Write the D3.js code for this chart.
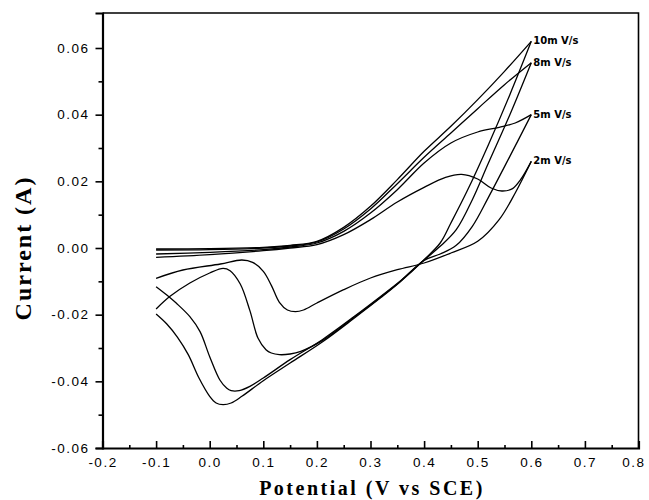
<!DOCTYPE html>
<html>
<head>
<meta charset="utf-8">
<script src="https://cdn.jsdelivr.net/npm/d3@7"></script>
<style>
  body { margin: 0; background: #fff; }
  .tick-label { font-family: "Liberation Sans", Arial, sans-serif; font-size: 13.5px; letter-spacing: 1.5px; fill: #000; }
  .axis-title { font-family: "Liberation Serif", "Times New Roman", serif; font-weight: bold; fill: #000; }
  .rate-label { font-family: "DejaVu Sans", sans-serif; font-weight: bold; font-size: 10px; fill: #000; }
</style>
</head>
<body>
<div id="chart"></div>
<script>
const width = 649;
const height = 500;
const margin = { top: 13, right: 10.5, bottom: 52, left: 102.5 };

// axis ticks
const xTicks = [-0.2, -0.1, 0.0, 0.1, 0.2, 0.3, 0.4, 0.5, 0.6, 0.7, 0.8];
const xMinor = [-0.15, -0.05, 0.05, 0.15, 0.25, 0.35, 0.45, 0.55, 0.65, 0.75];
const yTicks = [-0.06, -0.04, -0.02, 0.00, 0.02, 0.04, 0.06];
const yMinor = [-0.05, -0.03, -0.01, 0.01, 0.03, 0.05];

const rateLabels = ["10m V/s", "8m V/s", "5m V/s", "2m V/s"];

// forward (anodic) sweeps, [potential V, current A]
const fwd10 = [[-0.1,-0.0003],[0.0,-0.0002],[0.1,0.0002],[0.15,0.0008],[0.2,0.002],[0.25,0.0062],[0.3,0.0125],[0.35,0.0205],[0.4,0.029],[0.45,0.0365],[0.5,0.0445],[0.55,0.053],[0.6,0.062]];
const fwd8 = [[-0.1,-0.0006],[0.0,-0.0005],[0.1,0.0],[0.15,0.0006],[0.2,0.0018],[0.25,0.0057],[0.3,0.0117],[0.35,0.0193],[0.4,0.0272],[0.45,0.0345],[0.5,0.0418],[0.55,0.049],[0.6,0.0556]];
const fwd5 = [[-0.1,-0.0018],[0.0,-0.0013],[0.1,-0.0005],[0.15,0.0003],[0.2,0.0015],[0.25,0.005],[0.3,0.0105],[0.35,0.0175],[0.4,0.0255],[0.45,0.0315],[0.5,0.0348],[0.54,0.0362],[0.57,0.0375],[0.6,0.040]];
const fwd2 = [[-0.1,-0.0028],[0.0,-0.002],[0.1,-0.0008],[0.15,0.0],[0.2,0.001],[0.25,0.004],[0.3,0.0085],[0.35,0.0138],[0.4,0.0182],[0.44,0.0212],[0.47,0.0221],[0.5,0.0207],[0.525,0.018],[0.545,0.0171],[0.565,0.0178],[0.58,0.0205],[0.6,0.026]];

// reverse (cathodic) sweeps
const rev10 = [[0.6,0.062],[0.56,0.046],[0.52,0.031],[0.48,0.017],[0.45,0.0075],[0.43,0.0015],[0.4,-0.0035],[0.355,-0.0102],[0.32,-0.0148],[0.27,-0.021],[0.21,-0.0282],[0.15,-0.0345],[0.1,-0.0398],[0.06,-0.0445],[0.04,-0.0465],[0.025,-0.047],[0.012,-0.0465],[0.0,-0.0445],[-0.02,-0.039],[-0.04,-0.032],[-0.06,-0.0268],[-0.08,-0.0228],[-0.1,-0.0198]];
const rev8 = [[0.6,0.0556],[0.56,0.040],[0.52,0.0255],[0.49,0.0145],[0.46,0.0055],[0.43,0.0005],[0.4,-0.0036],[0.355,-0.0100],[0.32,-0.0144],[0.27,-0.0205],[0.21,-0.0275],[0.15,-0.0335],[0.1,-0.039],[0.075,-0.0415],[0.055,-0.0428],[0.04,-0.0428],[0.032,-0.0421],[0.019,-0.0396],[0.0,-0.0326],[-0.018,-0.0251],[-0.037,-0.0206],[-0.062,-0.0166],[-0.08,-0.0141],[-0.1,-0.0116]];
const rev5 = [[0.6,0.040],[0.56,0.0275],[0.52,0.0152],[0.49,0.0065],[0.46,0.0008],[0.43,-0.0018],[0.4,-0.0037],[0.355,-0.0101],[0.32,-0.0146],[0.27,-0.0207],[0.21,-0.0278],[0.17,-0.031],[0.15,-0.0318],[0.13,-0.032],[0.115,-0.0315],[0.105,-0.0305],[0.09,-0.027],[0.075,-0.0188],[0.057,-0.0108],[0.038,-0.0068],[0.025,-0.0061],[0.0,-0.0075],[-0.037,-0.0105],[-0.074,-0.0145],[-0.1,-0.0183]];
const rev2 = [[0.6,0.026],[0.57,0.0165],[0.54,0.0085],[0.5,0.002],[0.45,-0.0015],[0.4,-0.0045],[0.35,-0.0065],[0.3,-0.009],[0.25,-0.0125],[0.2,-0.0165],[0.175,-0.0186],[0.16,-0.0191],[0.145,-0.0186],[0.13,-0.0163],[0.115,-0.0112],[0.1,-0.007],[0.08,-0.0043],[0.06,-0.0036],[0.02,-0.0048],[-0.05,-0.0066],[-0.1,-0.0091]];

const sweeps = [[fwd10, rev10], [fwd8, rev8], [fwd5, rev5], [fwd2, rev2]];

const svg = d3.select("#chart").append("svg")
  .attr("width", width)
  .attr("height", height);

const x = d3.scaleLinear().domain([-0.2, 0.8]).range([margin.left, width - margin.right]);
const y = d3.scaleLinear().domain([-0.06, 0.0705]).range([height - margin.bottom, margin.top]);

const fmtY = v => d3.format(".2f")(v).replace("−", "-");
const fmtX = v => d3.format(".1f")(v).replace("−", "-");

// frame (top + right)
svg.append("path")
  .attr("d", `M${x(-0.2)},${y.range()[1]}H${x(0.8)}V${y.range()[0]}`)
  .attr("fill", "none").attr("stroke", "#000").attr("stroke-width", 1.6);

// y axis: ticks point outward
svg.append("g").attr("transform", `translate(${margin.left},0)`)
  .call(d3.axisLeft(y).tickValues(yTicks).tickSize(7).tickPadding(6).tickFormat(fmtY));
svg.append("g").attr("transform", `translate(${margin.left},0)`)
  .call(d3.axisLeft(y).tickValues(yMinor).tickSize(4).tickFormat(""))
  .call(g => g.select(".domain").remove());

// x axis: ticks point inward
const xAxis = svg.append("g").attr("transform", `translate(0,${height - margin.bottom})`)
  .call(d3.axisBottom(x).tickValues(xTicks).tickSize(-7).tickPadding(9).tickFormat(fmtX));
svg.append("g").attr("transform", `translate(0,${height - margin.bottom})`)
  .call(d3.axisBottom(x).tickValues(xMinor).tickSize(-3).tickFormat(""))
  .call(g => g.select(".domain").remove());

svg.selectAll(".domain").attr("stroke-width", 2.2);
svg.selectAll(".tick line").attr("stroke-width", 1.6);
svg.selectAll(".tick text").attr("class", "tick-label").attr("font-family", null).attr("font-size", null);

// last x label sits at the page edge, nudge it in
xAxis.selectAll(".tick text").filter(d => d === 0.8).attr("dx", -5);

// curves
const line = d3.line()
  .x(d => x(d[0]))
  .y(d => y(d[1]))
  .curve(d3.curveCatmullRom.alpha(0.5));

sweeps.forEach(pair => {
  pair.forEach(pts => {
    svg.append("path")
      .datum(pts)
      .attr("d", line)
      .attr("fill", "none")
      .attr("stroke", "#000")
      .attr("stroke-width", 1.3);
  });
});

// scan-rate labels at the turning points
sweeps.forEach((pair, i) => {
  const apex = pair[0][pair[0].length - 1];
  svg.append("text")
    .attr("class", "rate-label")
    .attr("x", x(apex[0]) + 2)
    .attr("y", y(apex[1]) + 3)
    .text(rateLabels[i]);
});

// axis titles
svg.append("text")
  .attr("class", "axis-title")
  .attr("x", 372)
  .attr("y", 495)
  .attr("text-anchor", "middle")
  .style("font-size", "20px")
  .style("letter-spacing", "2.5px")
  .text("Potential (V vs SCE)");

svg.append("text")
  .attr("class", "axis-title")
  .attr("transform", "translate(31,248) rotate(-90)")
  .attr("text-anchor", "middle")
  .style("font-size", "24px")
  .style("letter-spacing", "2px")
  .text("Current (A)");
</script>
</body>
</html>
